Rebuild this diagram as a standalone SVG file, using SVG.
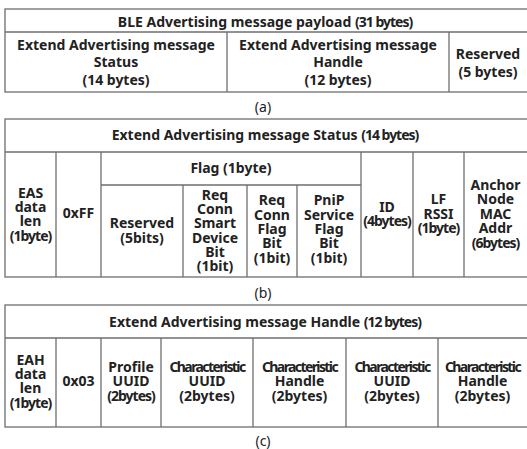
<svg xmlns="http://www.w3.org/2000/svg" width="527" height="449" viewBox="0 0 527 449">
<style>
.ln{stroke:#6e6e6e;stroke-width:1.3;fill:none}
text{font-family:"Noto Sans","Liberation Sans",sans-serif;font-size:14px;font-weight:bold;fill:#222;text-anchor:middle}
.c{letter-spacing:-1px}
.c2{letter-spacing:-1.6px}
.cap{font-weight:normal}
</style>
<rect width="527" height="449" fill="#fff"/>
<g id="connectors">
<rect class="ln" x="5" y="9" width="525" height="83"/>
<line class="ln" x1="5" y1="32" x2="527" y2="32"/>
<line class="ln" x1="227" y1="32" x2="227" y2="92"/>
<line class="ln" x1="449" y1="32" x2="449" y2="92"/>
<rect class="ln" x="5" y="119" width="525" height="158"/>
<line class="ln" x1="5" y1="152" x2="527" y2="152"/>
<line class="ln" x1="101" y1="185" x2="361" y2="185"/>
<line class="ln" x1="56" y1="152" x2="56" y2="277"/>
<line class="ln" x1="101" y1="152" x2="101" y2="277"/>
<line class="ln" x1="183" y1="185" x2="183" y2="277"/>
<line class="ln" x1="247" y1="185" x2="247" y2="277"/>
<line class="ln" x1="297" y1="185" x2="297" y2="277"/>
<line class="ln" x1="361" y1="152" x2="361" y2="277"/>
<line class="ln" x1="413" y1="152" x2="413" y2="277"/>
<line class="ln" x1="464" y1="152" x2="464" y2="277"/>
<rect class="ln" x="5" y="305" width="525" height="122"/>
<line class="ln" x1="5" y1="338" x2="527" y2="338"/>
<line class="ln" x1="56" y1="338" x2="56" y2="427"/>
<line class="ln" x1="101" y1="338" x2="101" y2="427"/>
<line class="ln" x1="161" y1="338" x2="161" y2="427"/>
<line class="ln" x1="253" y1="338" x2="253" y2="427"/>
<line class="ln" x1="346" y1="338" x2="346" y2="427"/>
<line class="ln" x1="438" y1="338" x2="438" y2="427"/>
</g>
<g id="a-header"><text x="265" y="27">BLE Advertising message payload <tspan class="c">(31 bytes)</tspan></text></g>
<g id="a-status"><text x="116" y="50">Extend Advertising message</text><text x="116" y="67">Status</text><text x="116" y="85">(14 bytes)</text></g>
<g id="a-handle"><text x="338" y="50">Extend Advertising message</text><text x="338" y="67">Handle</text><text x="338" y="85">(12 bytes)</text></g>
<g id="a-reserved"><text x="488" y="59">Reserved</text><text x="488" y="77">(5 bytes)</text></g>
<g id="cap-a"><text class="cap" x="263" y="112">(a)</text></g>

<g id="b-header"><text x="265" y="140">Extend Advertising message Status <tspan class="c">(14 bytes)</tspan></text></g>
<g id="b-flag"><text x="231" y="173">Flag (1byte)</text></g>
<g id="b-eas"><text x="30.5" y="198">EAS</text><text x="30.5" y="212">data</text><text x="30.5" y="226">len</text><text class="c" x="30.5" y="241">(1byte)</text></g>
<g id="b-ff"><text x="78.5" y="218">0xFF</text></g>
<g id="b-res"><text x="142" y="228">Reserved</text><text x="142" y="243">(5bits)</text></g>
<g id="b-req1"><text x="215" y="200">Req</text><text x="215" y="214">Conn</text><text x="215" y="228">Smart</text><text x="215" y="243">Device</text><text x="215" y="257">Bit</text><text x="215" y="271">(1bit)</text></g>
<g id="b-req2"><text x="272" y="205">Req</text><text x="272" y="220">Conn</text><text x="272" y="234">Flag</text><text x="272" y="248">Bit</text><text x="272" y="263">(1bit)</text></g>
<g id="b-pnip"><text x="329" y="205">PniP</text><text x="329" y="220">Service</text><text x="329" y="234">Flag</text><text x="329" y="248">Bit</text><text x="329" y="263">(1bit)</text></g>
<g id="b-id"><text x="387" y="212">ID</text><text class="c" x="387" y="226">(4bytes)</text></g>
<g id="b-lf"><text x="438.5" y="204">LF</text><text x="438.5" y="219">RSSI</text><text class="c" x="438.5" y="233">(1byte)</text></g>
<g id="b-anchor"><text x="495.5" y="190">Anchor</text><text x="495.5" y="204">Node</text><text x="495.5" y="219">MAC</text><text x="495.5" y="233">Addr</text><text class="c" x="495.5" y="248">(6bytes)</text></g>
<g id="cap-b"><text class="cap" x="263" y="298">(b)</text></g>

<g id="c-header"><text x="265" y="327">Extend Advertising message Handle <tspan class="c">(12 bytes)</tspan></text></g>
<g id="c-eah"><text x="30.5" y="365">EAH</text><text x="30.5" y="379">data</text><text x="30.5" y="393">len</text><text class="c" x="30.5" y="408">(1byte)</text></g>
<g id="c-03"><text x="78.5" y="386">0x03</text></g>
<g id="c-profile"><text x="131" y="372">Profile</text><text x="131" y="386">UUID</text><text class="c" x="131" y="401">(2bytes)</text></g>
<g id="c-cu1"><text class="c2" x="207" y="372">Characteristic</text><text x="207" y="386">UUID</text><text x="207" y="401">(2bytes)</text></g>
<g id="c-ch1"><text class="c2" x="299.5" y="372">Characteristic</text><text x="299.5" y="386">Handle</text><text x="299.5" y="401">(2bytes)</text></g>
<g id="c-cu2"><text class="c2" x="392" y="372">Characteristic</text><text x="392" y="386">UUID</text><text x="392" y="401">(2bytes)</text></g>
<g id="c-ch2"><text class="c2" x="482.5" y="372">Characteristic</text><text x="482.5" y="386">Handle</text><text x="482.5" y="401">(2bytes)</text></g>
<g id="cap-c"><text class="cap" x="263" y="446">(c)</text></g>
</svg>
